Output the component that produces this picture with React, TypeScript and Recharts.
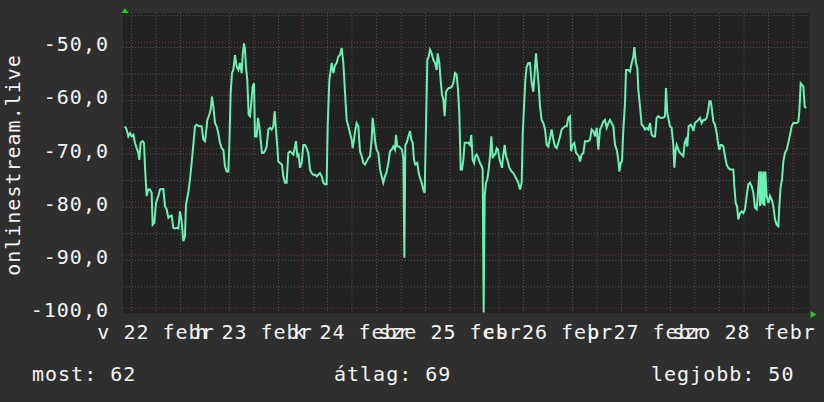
import { CartesianGrid, Line, LineChart, XAxis, YAxis } from "recharts";

const FONT = "'DejaVu Sans Mono', monospace";
const INK = "#f4f4f4";
const SPACING = 1;

// [hours from 23 Feb 00:00, signal level]
const feb22to23: [number, number][] = [
  [-19.6, -65.8], [-19.19, -66.4], [-18.78, -67.7], [-18.37, -67.1], [-17.96, -67.7], [-17.55, -67.4],
  [-17.15, -68.9], [-16.74, -69.9], [-16.33, -70.8], [-16.09, -72.1], [-15.76, -68.9], [-15.27, -68.6],
  [-14.94, -68.9], [-14.7, -73.3], [-14.29, -78.9], [-13.88, -77.7], [-13.47, -77.7], [-13.07, -78.3],
  [-12.82, -84.3], [-12.41, -83.9], [-12.0, -80.2], [-11.43, -78.9], [-11.02, -77.7], [-10.62, -77.6],
  [-10.21, -77.6], [-9.8, -80.8], [-9.39, -81.4], [-8.98, -83.0], [-8.58, -82.7], [-8.17, -82.6],
  [-7.76, -84.9], [-7.35, -85.0], [-6.94, -84.9], [-6.53, -85.0], [-6.13, -81.8], [-5.72, -83.6],
  [-5.31, -87.4], [-4.9, -86.4], [-4.66, -80.5], [-4.09, -78.3], [-3.68, -75.8], [-3.27, -72.7],
  [-2.86, -69.3], [-2.45, -65.8], [-2.04, -65.5], [-1.64, -65.7], [-1.23, -65.8], [-0.82, -65.8],
  [-0.41, -68.3], [0.0, -68.6], [0.24, -67.1], [0.57, -64.6], [1.06, -63.6], [1.38, -62.7],
  [1.71, -60.2], [2.04, -62.1], [2.45, -65.2], [2.85, -65.8], [3.26, -67.1], [3.67, -68.9],
  [4.08, -69.9], [4.49, -70.2], [4.89, -73.3], [5.3, -74.3], [5.71, -74.3], [5.95, -69.6],
  [6.28, -59.6], [6.61, -55.8], [6.93, -55.2], [7.34, -52.4], [7.75, -54.6], [8.16, -55.2],
  [8.57, -53.9], [8.98, -55.8], [9.22, -52.4], [9.55, -50.2], [9.79, -51.4], [10.04, -54.6],
  [10.36, -57.1], [10.69, -63.6], [11.02, -63.9], [11.34, -61.4], [11.67, -58.3], [12.0, -57.7],
  [12.24, -67.7], [12.65, -67.7], [12.98, -64.2], [13.3, -65.8], [13.63, -68.3], [13.96, -70.8],
  [14.28, -70.8], [14.69, -70.5], [15.1, -69.6], [15.51, -66.4], [15.91, -66.1], [16.32, -66.4],
  [16.73, -65.8], [17.06, -63.0], [17.38, -66.4], [17.71, -69.6], [17.95, -72.4], [18.36, -72.7],
  [18.85, -73.0], [19.18, -75.2], [19.59, -76.4], [19.99, -76.4], [20.4, -70.8], [20.81, -70.5],
  [21.22, -70.8], [21.63, -71.1], [22.04, -69.6], [22.28, -68.6], [22.61, -71.4], [22.93, -71.1],
  [23.26, -73.6], [23.67, -72.7], [24.08, -69.3], [24.49, -69.3], [24.89, -69.9], [25.3, -70.8],
  [25.71, -73.9], [26.12, -74.6], [26.53, -74.9], [26.93, -74.9], [27.34, -75.2], [27.75, -74.9],
  [28.16, -74.6], [28.57, -75.2], [28.98, -76.4], [29.38, -76.7], [29.79, -76.7], [30.04, -65.8],
  [30.45, -57.1],
];

const feb24to26: [number, number][] = [
  [31.02, -53.9], [31.43, -55.8], [31.84, -54.3], [32.24, -53.9], [32.65, -52.7], [33.06, -52.4],
  [33.47, -51.1], [33.88, -53.9], [34.28, -59.3], [34.69, -64.6], [35.1, -65.8], [35.51, -67.1],
  [35.92, -68.3], [36.16, -69.9], [36.49, -68.3], [36.82, -66.4], [37.14, -65.2], [37.55, -65.8],
  [37.96, -70.5], [38.37, -71.4], [38.78, -72.7], [39.18, -73.0], [39.59, -72.4], [40.0, -71.8],
  [40.41, -71.4], [40.82, -68.3], [41.06, -64.2], [41.39, -66.4], [41.71, -68.9], [42.04, -70.2],
  [42.45, -70.8], [42.86, -73.9], [43.27, -75.2], [43.67, -76.4], [44.08, -75.2], [44.49, -74.3],
  [44.9, -72.7], [45.31, -70.5], [45.71, -70.2], [46.12, -69.6], [46.53, -70.2], [46.77, -67.4],
  [47.1, -69.6], [47.51, -69.6], [47.92, -69.9], [48.24, -70.2], [48.57, -71.8], [48.82, -90.5],
  [49.06, -69.3], [49.39, -68.9], [49.8, -67.7], [50.2, -66.7], [50.53, -68.3], [50.86, -68.9],
  [51.18, -72.1], [51.51, -73.0], [52.0, -72.7], [52.33, -74.6], [52.65, -75.5], [53.06, -76.4],
  [53.47, -77.7], [53.8, -78.3], [54.12, -65.8], [54.45, -53.3], [54.78, -52.7], [55.1, -51.4],
  [55.51, -52.1], [55.92, -53.3], [56.33, -53.9], [56.73, -55.2], [56.98, -52.1], [57.39, -53.9],
  [57.71, -57.1], [58.04, -59.9], [58.37, -60.8], [58.69, -63.9], [59.02, -59.3], [59.35, -58.9],
  [59.67, -58.6], [60.0, -58.6], [60.49, -58.3], [60.81, -57.7], [61.22, -55.8], [61.63, -56.1],
  [61.96, -58.9], [62.28, -63.3], [62.61, -73.9], [62.94, -73.9], [63.26, -72.1], [63.59, -68.9],
  [64.08, -68.9], [64.49, -68.9], [64.9, -69.3], [65.22, -67.4], [65.55, -72.1], [65.88, -72.7],
  [66.2, -71.4], [66.53, -71.1], [66.94, -71.8], [67.35, -72.7], [67.75, -73.3], [68.0, -73.9],
  [68.24, -100.8], [68.49, -78.9], [68.81, -76.4], [69.14, -75.8], [69.47, -73.9], [69.8, -71.4],
  [70.12, -67.7], [70.45, -71.8], [70.78, -71.1], [71.1, -71.1], [71.43, -69.9], [71.76, -70.2],
  [72.08, -71.8], [72.41, -72.7], [72.73, -73.6], [73.06, -71.1], [73.39, -69.3], [73.71, -71.4],
  [74.04, -72.1], [74.53, -73.6], [75.1, -74.3], [75.51, -74.6], [75.92, -75.2], [76.33, -75.8],
  [76.73, -76.4], [77.14, -77.7], [77.55, -76.4], [77.79, -67.7], [78.12, -62.1], [78.45, -57.1],
  [78.77, -54.6], [79.18, -53.9], [79.59, -53.9], [80.0, -57.7], [80.41, -59.3], [80.73, -55.8],
  [81.06, -52.1], [81.39, -55.2], [81.71, -58.0], [82.04, -62.1],
];

const feb26toMar1: [number, number][] = [
  [82.45, -64.6], [82.86, -65.2], [83.27, -66.4], [83.67, -69.3], [84.08, -69.6], [84.49, -68.0],
  [84.9, -66.4], [85.31, -68.3], [85.71, -69.6], [86.12, -69.9], [86.53, -68.9], [86.94, -67.7],
  [87.35, -66.4], [87.75, -66.1], [88.16, -65.8], [88.57, -65.8], [88.98, -64.2], [89.39, -63.9],
  [89.63, -70.5], [90.04, -69.3], [90.45, -68.9], [90.86, -70.8], [91.18, -71.1], [91.51, -71.4],
  [91.84, -72.4], [92.24, -71.1], [92.65, -70.8], [93.06, -68.6], [93.47, -68.6], [93.88, -68.6],
  [94.28, -68.3], [94.69, -66.4], [95.1, -66.7], [95.51, -67.7], [95.92, -66.1], [96.33, -70.2],
  [96.73, -66.4], [97.14, -65.8], [97.55, -64.9], [97.96, -64.6], [98.37, -66.1], [98.78, -65.2],
  [99.18, -64.6], [99.59, -65.2], [100.0, -65.8], [100.41, -69.3], [100.82, -70.2], [101.22, -72.1],
  [101.47, -74.3], [101.8, -72.7], [102.12, -72.4], [102.45, -66.4], [102.86, -61.4], [103.1, -55.2],
  [103.67, -55.2], [104.08, -55.5], [104.49, -53.9], [104.9, -52.7], [105.14, -50.9], [105.55, -53.9],
  [105.88, -54.9], [106.12, -58.9], [106.53, -62.1], [106.94, -65.5], [107.35, -65.8], [107.75, -66.4],
  [108.16, -66.1], [108.57, -66.4], [108.98, -65.2], [109.39, -67.4], [109.8, -67.7], [110.2, -67.7],
  [110.61, -64.2], [111.02, -63.9], [111.43, -64.2], [111.84, -64.2], [112.24, -64.2], [112.65, -63.9],
  [112.9, -58.6], [113.22, -63.3], [113.55, -64.6], [113.88, -65.8], [114.28, -66.1], [114.69, -69.3],
  [114.94, -73.6], [115.26, -70.2], [115.51, -69.3], [115.92, -70.2], [116.33, -70.8], [116.73, -71.1],
  [117.14, -71.4], [117.47, -68.9], [117.79, -68.3], [118.12, -69.6], [118.45, -65.8], [118.94, -65.5],
  [119.26, -65.8], [119.59, -66.7], [120.0, -65.2], [120.41, -64.9], [120.82, -64.6], [121.22, -64.2],
  [121.63, -65.2], [122.04, -64.6], [122.45, -64.6], [122.86, -64.2], [123.27, -62.7], [123.51, -61.1],
  [123.84, -61.1], [124.16, -62.7], [124.49, -64.9], [124.9, -65.5], [125.31, -67.1], [125.63, -68.9],
  [125.96, -70.2], [126.28, -69.3], [126.61, -69.3], [126.94, -69.6], [127.35, -71.4], [127.75, -73.0],
  [128.16, -73.6], [128.57, -73.9], [128.98, -73.9], [129.39, -73.9], [129.63, -77.1], [129.96, -80.2],
  [130.28, -80.8], [130.61, -83.3], [131.02, -82.1], [131.43, -81.8], [131.84, -82.1], [132.24, -81.4],
  [132.65, -78.9], [133.06, -76.7], [133.47, -76.4], [133.88, -77.1], [134.29, -78.3], [134.69, -81.1],
  [135.1, -81.4], [135.51, -77.1], [135.75, -74.3], [135.92, -80.8], [136.16, -74.3], [136.49, -80.5],
  [136.73, -74.3], [136.98, -80.8], [137.22, -74.3], [137.55, -78.9], [137.96, -80.2], [138.37, -78.9],
  [138.77, -79.6], [139.18, -80.8], [139.59, -83.3], [140.0, -84.3], [140.41, -84.6], [140.65, -80.8],
  [140.98, -77.1], [141.31, -75.8], [141.63, -72.4], [142.04, -70.8], [142.45, -70.2], [142.86, -68.9],
  [143.27, -67.4], [143.67, -65.8], [144.08, -65.2], [144.49, -65.2], [144.9, -65.2], [145.31, -64.9],
  [145.55, -63.0], [145.88, -57.7], [146.2, -58.0], [146.53, -58.3], [146.86, -62.1], [147.18, -62.4],
];

const dayTicks = [-12, 12, 36, 60, 84, 108, 132];
const dayLabels = ["v 22 febr", "h 23 febr", "k 24 febr", "sze 25 febr", "cs 26 febr", "p 27 febr", "szo 28 febr"];
const levelTicks = [-100, -90, -80, -70, -60, -50];
const statLabels = ["most", "átlag", "legjobb"];
const statValues = [62, 69, 50];
const seriesName = "onlinestream.live";

const data = [...feb22to23, ...feb24to26, ...feb26toMar1].map(([t, v]) => ({ t, v }));

// grid: 1 unit / 6 hours minor, 10 units / midnight major
const minorLevels: number[] = [];
for (let v = -100; v <= -45; v++) if (v % 10 !== 0) minorLevels.push(v);
const minorHours: number[] = [];
for (let h = -18; h <= 147; h += 6) if (h % 24 !== 0) minorHours.push(h);
const majorHours = [0, 24, 48, 72, 96, 120, 144];

function LevelTick({ x, y, payload }: any) {
  return (
    <text x={x} y={y} dy={2} textAnchor="end" dominantBaseline="central" fill={INK} fontSize={20} fontFamily={FONT} letterSpacing={SPACING}>
      {payload.value.toFixed(1).replace(".", ",")}
    </text>
  );
}

function DayTick({ x, y, payload }: any) {
  return (
    <text x={x} y={y} textAnchor="middle" fill={INK} fontSize={20} fontFamily={FONT} letterSpacing={SPACING}>
      {dayLabels[dayTicks.indexOf(payload.value)]}
    </text>
  );
}

export default function App() {
  const statX = [32, 334, 651];
  return (
    <div style={{ position: "fixed", left: 0, top: 0, width: 824, height: 402, background: "#2f2f2f" }}>
      <LineChart width={824} height={402} data={data} margin={{ top: 13, right: 14, bottom: 0, left: 0 }}>
        <CartesianGrid
          fill="#222222"
          stroke="#555555"
          strokeDasharray="1 2"
          horizontalValues={minorLevels}
          verticalValues={minorHours}
        />
        <CartesianGrid
          stroke="#7a3434"
          strokeDasharray="1 2"
          horizontalValues={levelTicks}
          verticalValues={majorHours}
        />
        <XAxis
          type="number"
          dataKey="t"
          domain={[-20.08, 148.16]}
          ticks={dayTicks}
          interval={0}
          allowDataOverflow
          axisLine={false}
          tickLine={false}
          tickSize={0}
          tickMargin={26}
          height={89}
          tick={DayTick}
        />
        <YAxis
          type="number"
          domain={[-100.9, -44.5]}
          ticks={levelTicks}
          allowDataOverflow
          axisLine={false}
          tickLine={false}
          tickSize={0}
          tickMargin={14}
          width={123}
          tick={LevelTick}
        />
        <Line type="linear" dataKey="v" stroke="#6df0b4" strokeWidth={2} dot={false} isAnimationActive={false} />
      </LineChart>
      <svg width={824} height={402} style={{ position: "absolute", left: 0, top: 0, pointerEvents: "none" }}>
        <polygon points="121.5,13 128.5,13 125,8" fill="#22cc22" />
        <polygon points="810.5,311 810.5,318 816.5,314.5" fill="#22cc22" />
        <text
          transform="translate(13 165) rotate(-90)"
          textAnchor="middle"
          dominantBaseline="central"
          fill={INK}
          fontSize={20}
          fontFamily={FONT}
          letterSpacing={SPACING}
        >
          {seriesName}
        </text>
        {statLabels.map((label, i) => (
          <text key={label} x={statX[i]} y={381} fill={INK} fontSize={20} fontFamily={FONT} letterSpacing={SPACING}>
            {`${label}: ${statValues[i]}`}
          </text>
        ))}
      </svg>
    </div>
  );
}
